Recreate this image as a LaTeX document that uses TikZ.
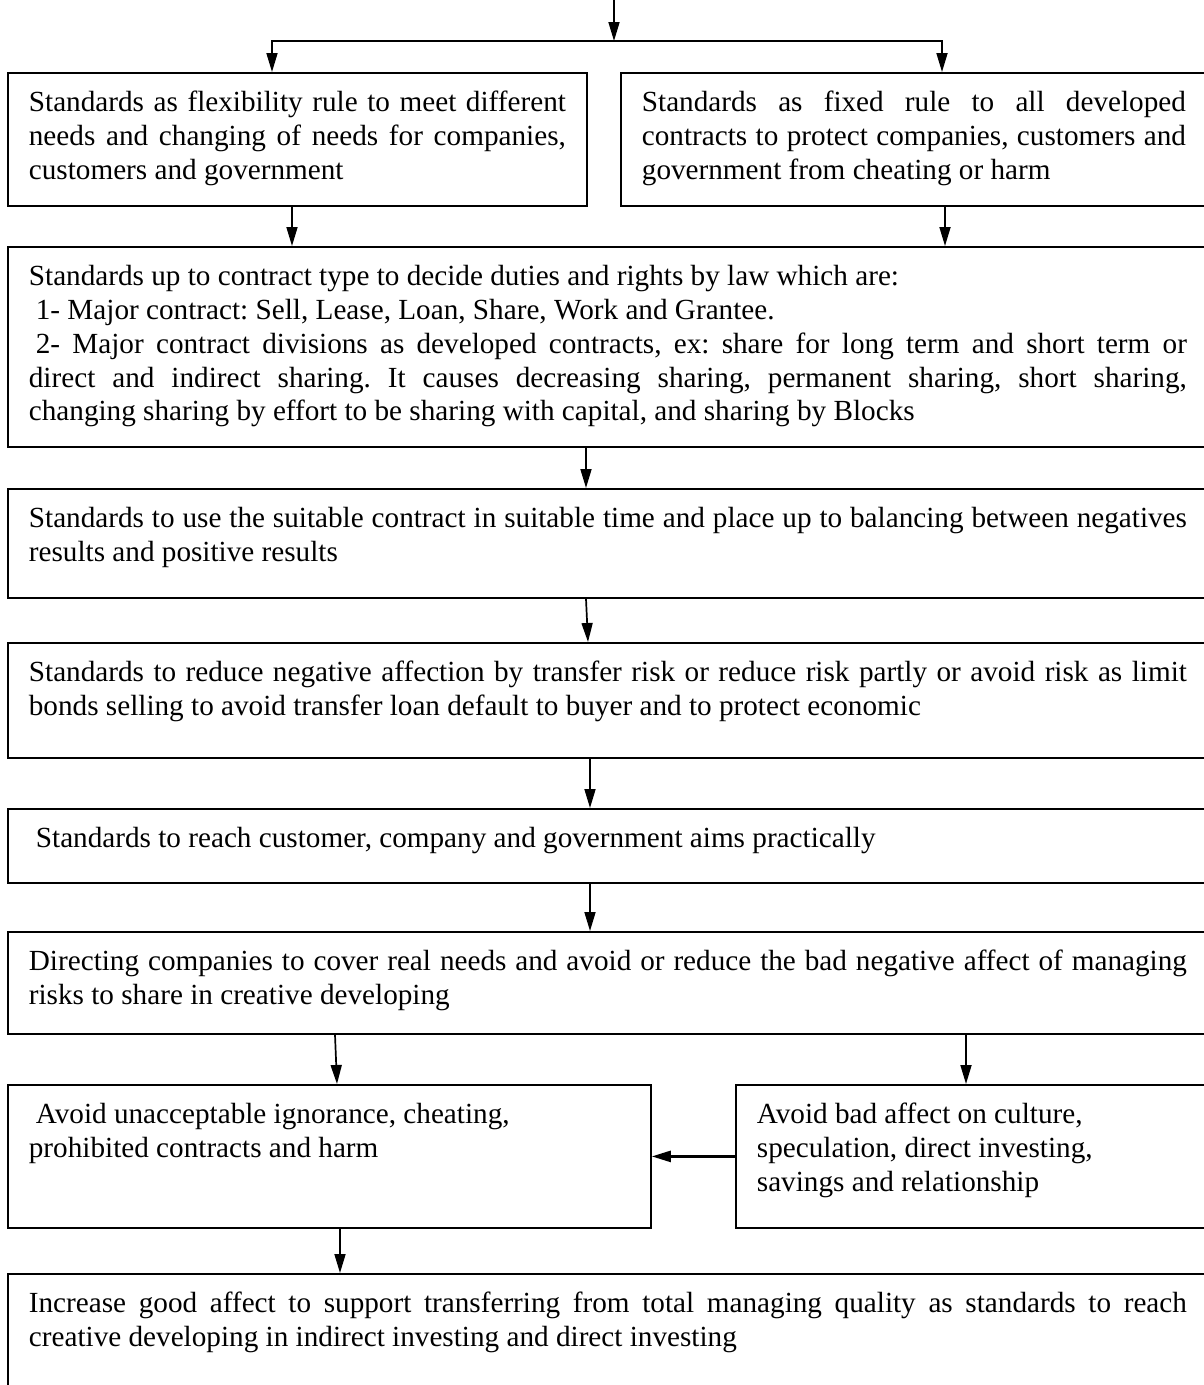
\documentclass[tikz,border=0pt]{standalone}
\usepackage{fontspec}
\setmainfont{Liberation Serif}
\usetikzlibrary{positioning, arrows.meta}

\newcommand{\fullline}[1]{\makebox[\linewidth][s]{#1}}

\begin{document}
\frenchspacing
\begin{tikzpicture}[x=1pt, y=-1pt,
    box/.style={draw, line width=1.8pt, anchor=north west, inner xsep=21pt, inner ysep=0pt,
        text height=39pt, align=justify, font=\fontsize{29.2}{33.7}\selectfont},
    arr/.style={-{Triangle[length=19pt, width=11pt]}, line width=1.7pt}]
        \useasboundingbox (0,0) rectangle (1204,1385);

        \node[box, text width=537pt, text depth=94pt]   (L1) at (7,72)    {\fullline{Standards as flexibility rule to meet different}\\ \fullline{needs and changing of needs for companies,}\\ customers and government};
        \node[box, text width=544pt, text depth=94pt]   (R1) at (620,72)  {\fullline{Standards as fixed rule to all developed}\\ \fullline{contracts to protect companies, customers and}\\ government from cheating or harm};
        \node[box, text width=1158pt, text depth=161pt] (B2) at (7,246)   {Standards up to contract type to decide duties and rights by law which are:\\ \hspace*{7pt}1- Major contract: Sell, Lease, Loan, Share, Work and Grantee.\\ \fullline{\hspace*{7pt}2- Major contract divisions as developed contracts, ex: share for long term and short term or}\\ \fullline{direct and indirect sharing. It causes decreasing sharing, permanent sharing, short sharing,}\\ changing sharing by effort to be sharing with capital, and sharing by Blocks};
        \node[box, text width=1158pt, text depth=70pt]  (B3) at (7,488)   {\fullline{Standards to use the suitable contract in suitable time and place up to balancing between negatives}\\ results and positive results};
        \node[box, text width=1158pt, text depth=76pt]  (B4) at (7,642)   {\fullline{Standards to reduce negative affection by transfer risk or reduce risk partly or avoid risk as limit}\\ bonds selling to avoid transfer loan default to buyer and to protect economic};
        \node[box, text width=1158pt, text depth=35pt]  (B5) at (7,808)   {\hspace*{7pt}Standards to reach customer, company and government aims practically};
        \node[box, text width=1158pt, text depth=63pt]  (B6) at (7,931)   {\fullline{Directing companies to cover real needs and avoid or reduce the bad negative affect of managing}\\ risks to share in creative developing};
        \node[box, text width=601pt, text depth=104pt]  (L7) at (7,1084)  {\hspace*{7pt}Avoid unacceptable ignorance, cheating,\\ prohibited contracts and harm};
        \node[box, text width=430pt, text depth=104pt]  (R7) at (735,1084) {Avoid bad affect on culture,\\ speculation, direct investing,\\ savings and relationship};
        \node[box, text width=1158pt, text depth=130pt] (B8) at (7,1273)  {\fullline{Increase good affect to support transferring from total managing quality as standards to reach}\\ creative developing in indirect investing and direct investing};

        \coordinate (in)   at (614,0);
        \coordinate (fork) at (614,41);

        \draw[arr] (in) -- (fork);
        \draw[arr] (fork) -| ([xshift=265pt]L1.north west);
        \draw[arr] (fork) -| ([xshift=322pt]R1.north west);
        \draw[arr] ([xshift=285pt]L1.south west) -- ([xshift=285pt]B2.north west);
        \draw[arr] ([xshift=325pt]R1.south west) -- ([xshift=938pt]B2.north west);
        \draw[arr] ([xshift=579pt]B2.south west) -- ([xshift=579pt]B3.north west);
        \draw[arr] ([xshift=579pt]B3.south west) -- ([xshift=581pt]B4.north west);
        \draw[arr] ([xshift=583pt]B4.south west) -- ([xshift=583pt]B5.north west);
        \draw[arr] ([xshift=583pt]B5.south west) -- ([xshift=583pt]B6.north west);
        \draw[arr] ([xshift=328pt]B6.south west) -- ([xshift=330pt]L7.north west);
        \draw[arr] ([xshift=959pt]B6.south west) -- ([xshift=231pt]R7.north west);
        \draw[arr, line width=2.6pt] (R7.west) -- (L7.east);
        \draw[arr] ([xshift=333pt]L7.south west) -- ([xshift=333pt]B8.north west);
\end{tikzpicture}
\end{document}
